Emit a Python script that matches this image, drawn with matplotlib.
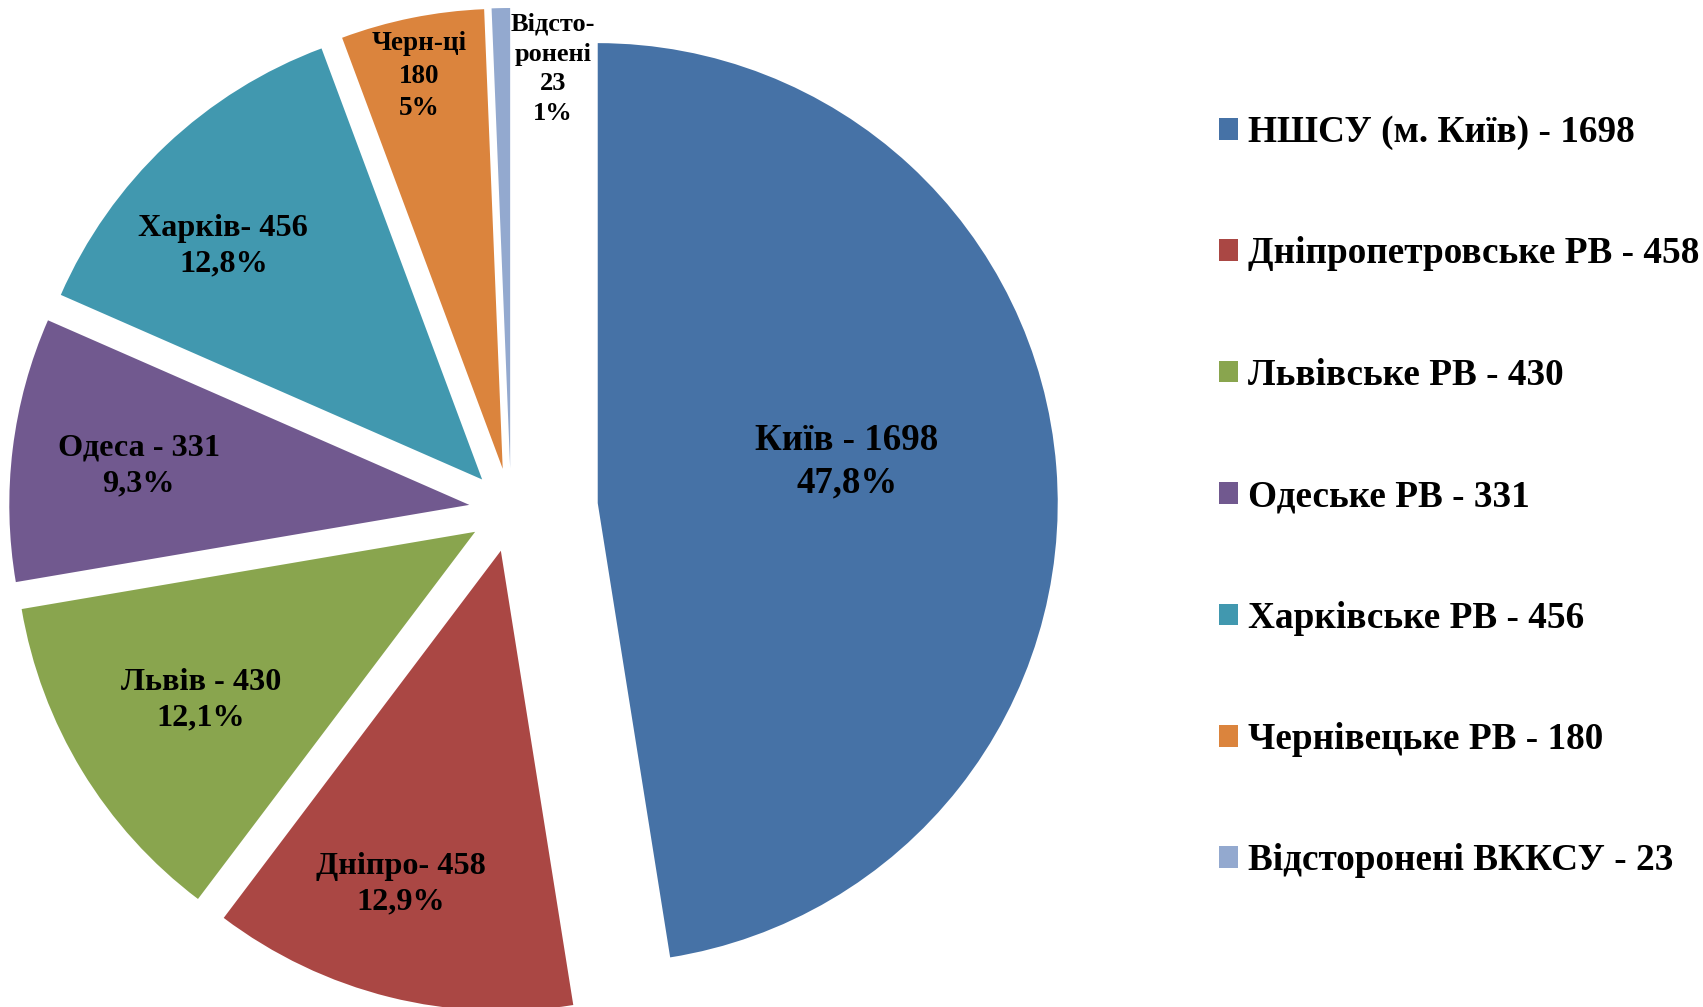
import numpy as np
import matplotlib
matplotlib.use("Agg")
import matplotlib.pyplot as plt

# ---- data ----
short_names = ["Київ", "Дніпро", "Львів", "Одеса", "Харків", "Черн-ці", "Відсто-\nронені"]
counts = [1698, 458, 430, 331, 456, 180, 23]
pct_labels = ["47,8%", "12,9%", "12,1%", "9,3%", "12,8%", "5%", "1%"]
legend_names = ["НШСУ (м. Київ)", "Дніпропетровське РВ", "Львівське РВ", "Одеське РВ",
                "Харківське РВ", "Чернівецьке РВ", "Відсторонені ВККСУ"]
colors = ["#4672A6", "#AA4744", "#89A54E", "#71598F", "#4198AF", "#DB843D", "#93A9CF"]

label_texts = [
    f"{short_names[0]} - {counts[0]}\n{pct_labels[0]}",
    f"{short_names[1]}- {counts[1]}\n{pct_labels[1]}",
    f"{short_names[2]} - {counts[2]}\n{pct_labels[2]}",
    f"{short_names[3]} - {counts[3]}\n{pct_labels[3]}",
    f"{short_names[4]}- {counts[4]}\n{pct_labels[4]}",
    f"{short_names[5]}\n{counts[5]}\n{pct_labels[5]}",
    f"{short_names[6]}\n{counts[6]}\n{pct_labels[6]}",
]
legend_labels = [f"{n} - {c}" for n, c in zip(legend_names, counts)]

# ---- layout ----
W, H = 1703, 1007
R = 460
center = (511, H - 510)
explode = [87, 42, 42, 42, 42, 42, 42]
label_dy = -3.5  # small global downward shift of labels (pixels)
# (radial fraction, angle tweak in degrees, fontsize, linespacing)
label_layout = [(0.55, 5.7, 26.6, 1.26), (0.75, -2.9, 23.2, 1.3), (0.695, -0.3, 23.2, 1.3),
                (0.725, -0.3, 23.2, 1.3), (0.762, 4.2, 23.2, 1.3), (0.88, 0.5, 19.5, 1.38),
                (0.88, -7.2, 19, 1.38)]

plt.rcParams['font.family'] = ['Liberation Serif', 'DejaVu Serif']
fig = plt.figure(figsize=(W / 100, H / 100), dpi=100)
ax = fig.add_axes([0, 0, 1, 1])
wedges, _ = ax.pie(counts, colors=colors, startangle=90, counterclock=False,
                   radius=R, center=center, explode=explode,
                   wedgeprops=dict(linewidth=0))
ax.set_xlim(0, W)
ax.set_ylim(0, H)
ax.set_aspect('equal')
ax.axis('off')

for w, txt, (fr, dang, fs, ls) in zip(wedges, label_texts, label_layout):
    mid = np.deg2rad((w.theta1 + w.theta2) / 2 + dang)
    cx, cy = w.center
    ax.text(cx + fr * R * np.cos(mid), cy + fr * R * np.sin(mid) + label_dy, txt,
            ha='center', va='center', fontsize=fs, fontweight='bold',
            linespacing=ls, color='black')

leg = ax.legend(wedges, legend_labels, loc='upper left',
                bbox_to_anchor=(1219 / W, 1 - 115 / H), bbox_transform=fig.transFigure,
                frameon=False, prop=dict(family='Liberation Serif', weight='bold', size=26.8),
                handlelength=0.52, handleheight=0.52, handletextpad=0.25,
                labelspacing=2.32, borderpad=0, borderaxespad=0)

fig.savefig("out.png", dpi=100)
